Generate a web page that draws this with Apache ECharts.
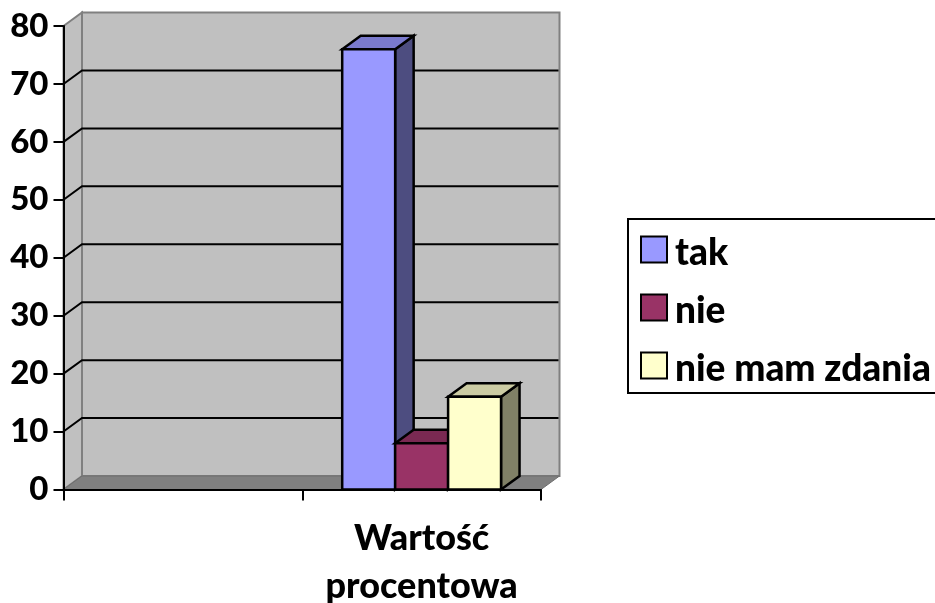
<!DOCTYPE html>
<html>
<head>
<meta charset="utf-8">
<style>
  html, body { margin: 0; padding: 0; background: #ffffff; overflow: hidden; }
  #chart { width: 935px; height: 603px; }
</style>
<script src="https://cdn.jsdelivr.net/npm/echarts@6/dist/echarts.min.js"></script>
</head>
<body>
<div id="chart"></div>
<script>
var categories = ['', 'Wartość\nprocentowa']
var yTicks = [0, 10, 20, 30, 40, 50, 60, 70, 80]
var seriesNames = ['tak', 'nie', 'nie mam zdania']
var takValues = [null, 76]
var nieValues = [null, 8]
var brakValues = [null, 16]

var FONT = 'Lato'
var DEPTH_X = 18.5
var DEPTH_Y = 13.5
var BAR_SHARE = 53 / 239

var myChart = echarts.init(document.getElementById('chart'), null, { renderer: 'canvas' })

function poly(points, fill, stroke, width) {
  return {
    type: 'polygon',
    shape: { points: points },
    style: { fill: fill, stroke: stroke, lineWidth: width, lineJoin: 'miter' }
  }
}

// sciany wykresu i linie siatki na tylnej scianie
function renderWalls(params, api) {
  var c = params.coordSys
  var left = c.x
  var right = c.x + c.width
  var bottom = c.y + c.height
  var top = c.y
  var children = []
  if (params.dataIndex === 0) {
    children.push(poly([[left + DEPTH_X, top - DEPTH_Y], [right + DEPTH_X, top - DEPTH_Y], [right + DEPTH_X, bottom - DEPTH_Y], [left + DEPTH_X, bottom - DEPTH_Y]], '#c0c0c0', '#808080', 2))
    children.push(poly([[left, top], [left + DEPTH_X, top - DEPTH_Y], [left + DEPTH_X, bottom - DEPTH_Y], [left, bottom]], '#c0c0c0', '#808080', 2))
    children.push(poly([[left, bottom], [left + DEPTH_X, bottom - DEPTH_Y], [right + DEPTH_X, bottom - DEPTH_Y], [right, bottom]], '#808080', '#6e6e6e', 1))
  }
  var tick = api.value(0)
  if (tick > 0 && tick < 80) {
    var y = api.coord([0, tick])[1]
    children.push({
      type: 'polyline',
      shape: { points: [[left, y], [left + DEPTH_X, y - DEPTH_Y], [right + DEPTH_X - 1, y - DEPTH_Y]] },
      style: { fill: null, stroke: '#000000', lineWidth: 2 }
    })
  }
  return { type: 'group', children: children }
}

// slupek 3D: przod, gora, bok
function makeBar(index, front, topColor, sideColor) {
  return function(params, api) {
    var base = api.coord([api.value(0), 0])
    var head = api.coord([api.value(0), api.value(1)])
    var w = api.size([1, 0])[0] * BAR_SHARE
    var x0 = base[0] + (index - 1.5) * w
    var x1 = x0 + w
    var yT = head[1]
    var yB = base[1]
    return {
      type: 'group',
      children: [
        poly([[x1, yB], [x1 + DEPTH_X, yB - DEPTH_Y], [x1 + DEPTH_X, yT - DEPTH_Y], [x1, yT]], sideColor, '#000000', 2.5),
        poly([[x0, yT], [x0 + DEPTH_X, yT - DEPTH_Y], [x1 + DEPTH_X, yT - DEPTH_Y], [x1, yT]], topColor, '#000000', 2.5),
        poly([[x0, yT], [x1, yT], [x1, yB], [x0, yB]], front, '#000000', 2.5)
      ]
    }
  }
}

function barData(values) {
  var out = []
  for (var i = 0; i < values.length; i++) {
    if (values[i] !== null) {
      out.push([i, values[i]])
    }
  }
  return out
}

var option = {
  animation: false,
  backgroundColor: '#ffffff',
  textStyle: { fontFamily: FONT },
  grid: { left: 63.5, top: 26, width: 477.5, height: 463.5, containLabel: false, outerBoundsMode: 'none' },
  legend: {
    orient: 'vertical',
    left: 628,
    top: 219,
    padding: [8, 30, 5, 12],
    itemWidth: 26,
    itemHeight: 26,
    itemGap: 13,
    backgroundColor: '#ffffff',
    borderColor: '#000000',
    borderWidth: 2,
    borderRadius: 0,
    icon: 'rect',
    selectedMode: false,
    data: seriesNames,
    formatter: '{a|{name}}',
    textStyle: {
      fontFamily: FONT,
      fontWeight: 900,
      fontSize: 37,
      color: '#000000',
      rich: {
        a: {
          fontFamily: FONT,
          fontWeight: 900,
          fontSize: 37,
          lineHeight: 37,
          color: '#000000',
          padding: [8, 0, 0, 3]
        }
      }
    }
  },
  xAxis: {
    type: 'category',
    data: categories,
    z: 5,
    axisLine: { lineStyle: { color: '#000000', width: 2 } },
    axisTick: { show: true, length: 11, alignWithLabel: false, lineStyle: { color: '#000000', width: 2 } },
    axisLabel: {
      interval: 0,
      margin: 25,
      fontFamily: FONT,
      fontWeight: 900,
      fontSize: 36,
      lineHeight: 48,
      color: '#000000'
    }
  },
  yAxis: {
    type: 'value',
    min: 0,
    max: 80,
    interval: 10,
    z: 5,
    axisLine: { show: true, lineStyle: { color: '#000000', width: 2 } },
    axisTick: { show: true, length: 10, lineStyle: { color: '#000000', width: 2 } },
    splitLine: { show: false },
    axisLabel: {
      margin: 15,
      fontFamily: FONT,
      fontWeight: 900,
      fontSize: 33,
      color: '#000000'
    }
  },
  series: [
    {
      type: 'custom',
      name: 'sciany',
      z: 1,
      silent: true,
      renderItem: renderWalls,
      data: yTicks.map(function(t) { return [t] }),
      encode: { y: 0 }
    },
    {
      type: 'custom',
      name: seriesNames[0],
      z: 2,
      itemStyle: { color: '#9999ff', borderColor: '#000000', borderWidth: 2 },
      renderItem: makeBar(0, '#9999ff', '#7a7acc', '#4d4d80'),
      data: barData(takValues)
    },
    {
      type: 'custom',
      name: seriesNames[1],
      z: 3,
      itemStyle: { color: '#993366', borderColor: '#000000', borderWidth: 2 },
      renderItem: makeBar(1, '#993366', '#7a2952', '#4d1a33'),
      data: barData(nieValues)
    },
    {
      type: 'custom',
      name: seriesNames[2],
      z: 4,
      itemStyle: { color: '#ffffcc', borderColor: '#000000', borderWidth: 2 },
      renderItem: makeBar(2, '#ffffcc', '#cccca3', '#808066'),
      data: barData(brakValues)
    }
  ]
}

myChart.setOption(option)
window.addEventListener('resize', function() {
  myChart.resize()
})
</script>
</body>
</html>
